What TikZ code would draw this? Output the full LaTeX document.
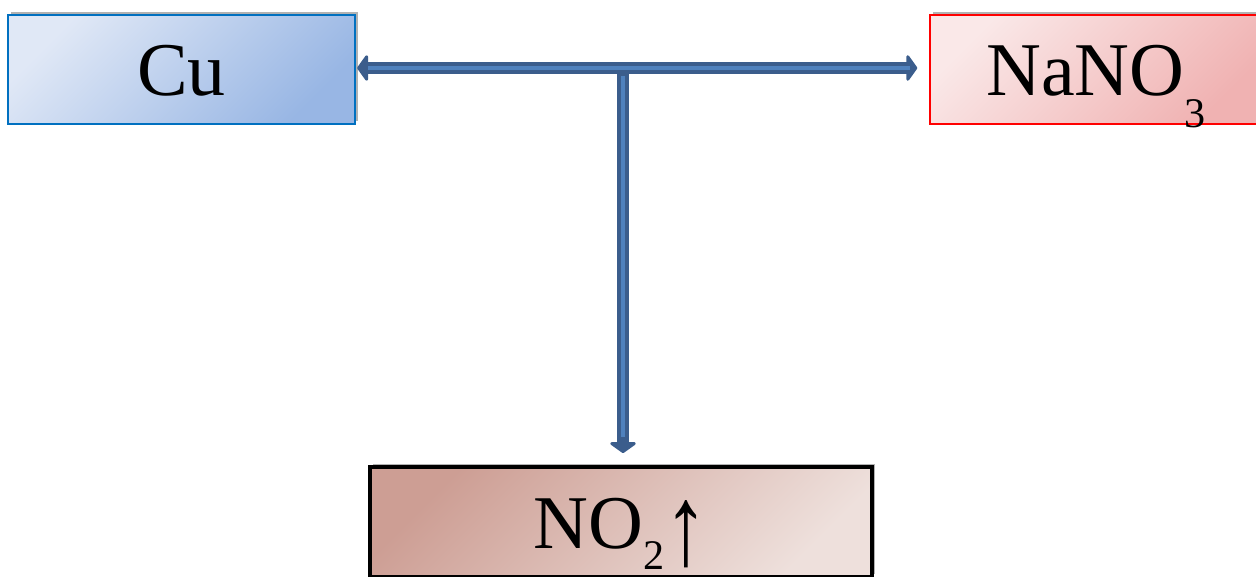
\documentclass[tikz,border=0pt]{standalone}
\usepackage{fontspec}
\usepackage{graphicx}
\setmainfont{Liberation Serif}
\usetikzlibrary{positioning, arrows.meta, shadows, calc}
\definecolor{cublue}{RGB}{0,112,192}
\definecolor{culight}{RGB}{224,232,246}
\definecolor{cudark}{RGB}{152,182,228}
\definecolor{nalight}{RGB}{250,232,232}
\definecolor{nadark}{RGB}{240,178,178}
\definecolor{gasdark}{RGB}{205,158,148}
\definecolor{gaslight}{RGB}{238,224,220}
\definecolor{arrdark}{RGB}{59,93,140}
\definecolor{arrlight}{RGB}{79,129,189}
\newcommand{\chemsub}[2][23pt]{\smash{\raisebox{-#1}{\fontsize{30}{32}\selectfont #2}}}
\newcommand{\gasup}{\smash{\raisebox{-12pt}{\scalebox{1.15}[1.5]{↑}}}}
\tikzset{
    chembox/.style={rectangle, inner sep=0pt, align=center, font=\fontsize{54}{60}\selectfont, text height=37pt, text depth=0pt, drop shadow={shadow xshift=2pt, shadow yshift=2pt, fill=black, opacity=0.3}},
    cubox/.style={chembox, draw=cublue, line width=1pt, top color=culight, bottom color=cudark, shading angle=45, minimum width=8.675cm, minimum height=2.725cm},
    nabox/.style={chembox, draw=red, line width=1pt, top color=nalight, bottom color=nadark, shading angle=45, minimum width=8.3cm, minimum height=2.725cm},
    gasbox/.style={chembox, draw=black, line width=2.8pt, top color=gasdark, bottom color=gaslight, shading angle=45, minimum width=12.55cm, minimum height=2.75cm},
    arrout/.style={line width=8.5pt, color=arrdark, line join=round},
    arrin/.style={line width=2.4pt, color=arrlight},
    bigtip/.tip={Triangle[length=8pt, width=22pt, round]}
}
\begin{document}
\begin{tikzpicture}[x=0.025cm, y=-0.025cm]
    \useasboundingbox (0,0) rectangle (1256,577);
    \clip (0,0) rectangle (1256,577);

    \node[cubox] (cu) at (181.5,69.5) {Cu};
    \node[nabox] (nano) at (1096,69.5) {NaNO\chemsub{3}};
    \node[gasbox] (notwo) at (621,522) {NO\chemsub[15pt]{2}\gasup};

    \coordinate (split) at (623,68);

    % outlines
    \draw[arrout, -bigtip, shorten >=8.5pt] (split) -- (split |- notwo.north);
    \draw[arrout, bigtip-bigtip, shorten >=8.5pt, shorten <=1pt] (cu.east |- split) -- (nano.west |- split);
    % inner stripes
    \draw[arrin, shorten <=9pt, shorten >=14pt] (cu.east |- split) -- (nano.west |- split);
    \draw[arrin, shorten <=5.5pt, shorten >=20pt] (split) -- (split |- notwo.north);
\end{tikzpicture}
\end{document}
